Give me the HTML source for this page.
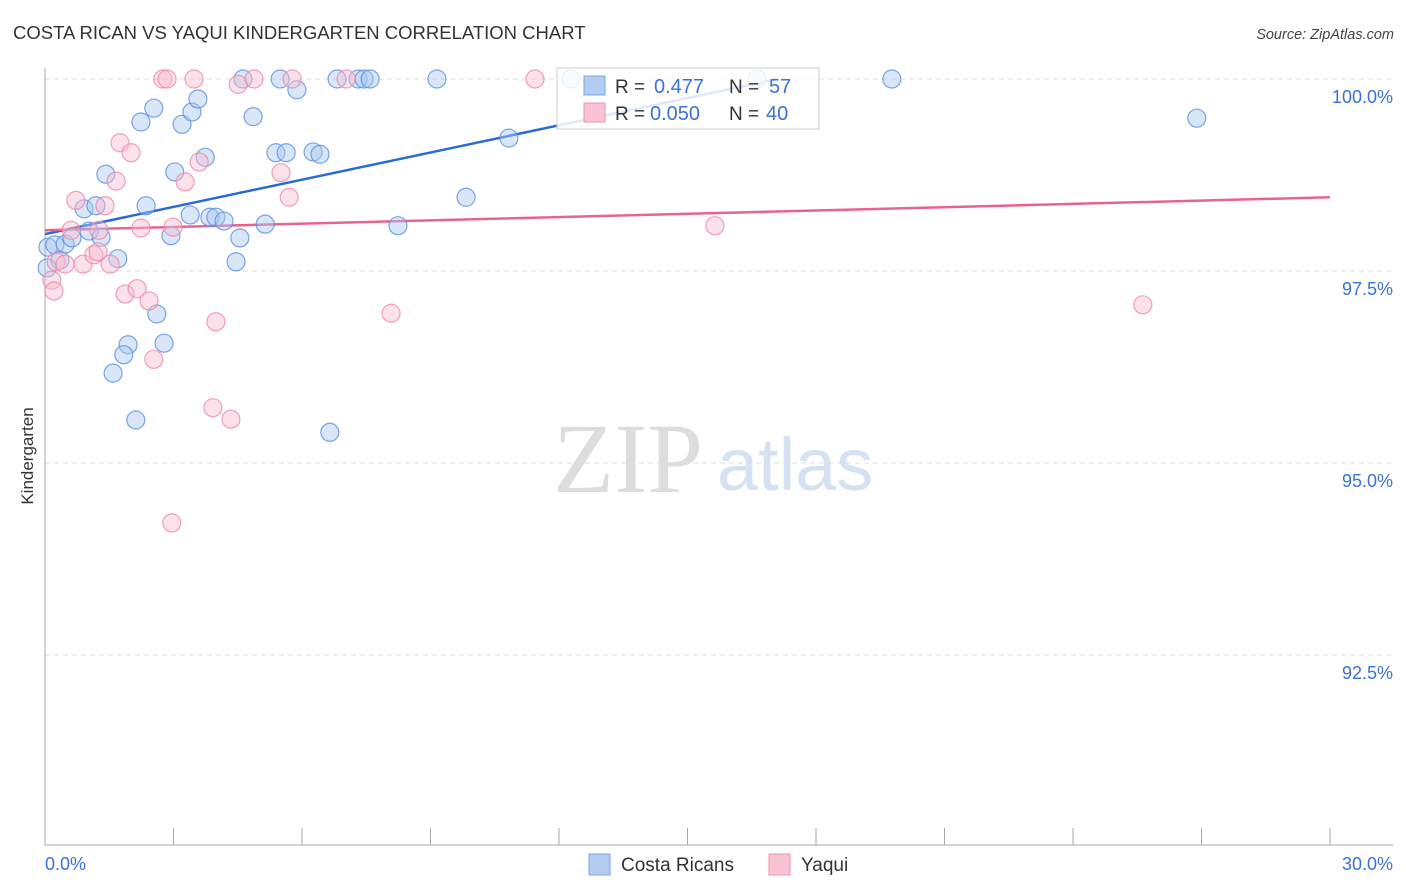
<!DOCTYPE html>
<html><head><meta charset="utf-8"><style>
body{margin:0;background:#fff;font-family:"Liberation Sans",sans-serif;}
svg{display:block}
</style></head><body>
<svg id="chart" width="1406" height="892" xmlns="http://www.w3.org/2000/svg">
<text x="13" y="39" font-size="18.5" fill="#333" font-family="Liberation Sans, sans-serif">COSTA RICAN VS YAQUI KINDERGARTEN CORRELATION CHART</text>
<text x="1394" y="39" font-size="14.5" fill="#444" font-style="italic" text-anchor="end">Source: ZipAtlas.com</text>
<g>
<text x="553" y="492" font-size="100" fill="#ddd" font-family="Liberation Serif, serif">ZIP</text>
<text x="717" y="490" font-size="74" fill="#d4e2f4">atlas</text>
</g>
<g id="grid"></g>
<g id="axes"></g>
<g id="trends"></g>
<g id="pts"></g>
<g>
<rect x="557" y="68" width="262" height="61" fill="#fff" fill-opacity="0.85" stroke="#ccc"/>
<rect x="584" y="76" width="21" height="19" fill="#b3cdf2" stroke="#7aa6e6"/>
<rect x="584" y="103" width="21" height="19" fill="#f9c3d3" stroke="#ee93ae"/>
<text x="615" y="93" font-size="19" fill="#333">R = </text><text x="654" y="93" font-size="20" fill="#3a72d6">0.477</text>
<text x="729" y="93" font-size="19" fill="#333">N = </text><text x="769" y="93" font-size="20" fill="#3a72d6">57</text>
<text x="615" y="120" font-size="19" fill="#333">R = </text><text x="650" y="120" font-size="20" fill="#3a72d6">0.050</text>
<text x="729" y="120" font-size="19" fill="#333">N = </text><text x="766" y="120" font-size="20" fill="#3a72d6">40</text>
</g>
<g>
<rect x="589" y="854" width="21" height="21" fill="#b3cdf2" stroke="#7aa6e6"/>
<text x="621" y="871" font-size="19" fill="#333">Costa Ricans</text>
<rect x="769" y="854" width="21" height="21" fill="#f9c3d3" stroke="#ee93ae"/>
<text x="801" y="871" font-size="19" fill="#333">Yaqui</text>
</g>
<text transform="translate(33,456) rotate(-90)" font-size="17" fill="#333" text-anchor="middle">Kindergarten</text>
</svg>
<script>
const yTicks=[100,97.5,95,92.5];
const yTickLabels=["100.0%","97.5%","95.0%","92.5%"];
const xTickLabels=["0.0%","30.0%"];
const blueX=[0.07,0.23,0.35,0.47,0.63,0.91,1.19,1.03,1.31,1.42,1.70,1.94,1.84,1.59,2.12,2.24,2.36,2.54,2.61,2.78,2.94,3.03,3.20,3.39,3.43,3.57,3.74,3.85,3.99,4.18,4.46,4.55,4.62,4.86,5.14,5.39,5.49,5.63,5.88,6.26,6.42,6.65,6.82,7.31,7.45,7.59,8.24,9.15,9.83,10.83,12.28,16.62,19.77,26.89,0.05];
const blueY=[97.81,97.84,97.64,97.85,97.93,98.31,98.35,98.02,97.94,98.76,97.66,96.54,96.41,96.17,95.56,99.44,98.35,99.62,96.94,96.56,97.96,98.79,99.41,98.23,99.57,99.74,98.98,98.20,98.20,98.15,97.62,97.93,100,99.51,98.11,99.04,100,99.04,99.86,99.05,99.02,95.40,100,100,100,100,98.09,100,98.46,99.23,100,100,100,99.49,97.54];
const pinkX=[2.75,2.85,3.48,4.51,4.88,5.77,7.03,11.44,1.75,2.01,1.66,0.72,1.40,1.26,0.61,0.26,0.47,0.89,1.52,1.14,1.24,0.16,0.21,1.87,2.15,2.43,2.54,2.99,2.24,3.27,3.60,3.99,3.92,4.34,2.96,5.51,5.70,8.08,15.64,25.63];
const pinkY=[100,100,100,99.93,100,100,100,100,99.17,99.04,98.67,98.42,98.35,98.03,98.03,97.62,97.59,97.59,97.59,97.71,97.75,97.38,97.24,97.20,97.27,97.11,96.35,98.07,98.06,98.66,98.92,96.84,95.72,95.57,94.22,98.78,98.46,96.95,98.09,97.06];
const blueTrendX=[0,17.1], blueTrendY=[97.98,100];
const pinkTrendX=[0,30], pinkTrendY=[98.03,98.46];
const NS="http://www.w3.org/2000/svg";
const sx=v=>45+v/30*1285, sy=v=>79+(100-v)/2.5*192;
function mk(tag,attrs,parent){const e=document.createElementNS(NS,tag);for(const k in attrs)e.setAttribute(k,attrs[k]);document.getElementById(parent).appendChild(e);return e;}
yTicks.forEach((t,i)=>{
 const l=mk('line',{x1:45,x2:1393,y1:sy(t),y2:sy(t),stroke:'#ddd','stroke-dasharray':'5,4'},'grid');
 
 
 const tx=mk('text',{x:1393,y:sy(t)+24,'font-size':18,fill:'#3a72d6','text-anchor':'end'},'grid');
 tx.textContent=yTickLabels[i];
 
 
});
let a=mk('line',{x1:45,x2:45,y1:68,y2:845,stroke:'#aaa'},'axes');


a=mk('line',{x1:45,x2:1393,y1:845,y2:845,stroke:'#aaa'},'axes');


for(let i=0;i<=10;i++){const t=mk('line',{x1:sx(i*3),x2:sx(i*3),y1:828,y2:845,stroke:'#aaa'},'axes');
 
 }
[[0,'start',45],[1,'end',1393]].forEach(([i,anc,x])=>{const t=mk('text',{x:x,y:870,'font-size':18,fill:'#3a72d6','text-anchor':anc},'axes');t.textContent=xTickLabels[i];
 
 });
function dots(X,Y,fill,stroke,name){X.forEach((x,i)=>{const c=mk('circle',{cx:sx(x),cy:sy(Y[i]),r:9,fill:fill,'fill-opacity':0.45,stroke:stroke,'stroke-opacity':0.8,'stroke-width':1.2},'pts');
 
 });}
dots(blueX,blueY,'#a9c8f0','#5a90dd','costa-rican-point');
dots(pinkX,pinkY,'#f8bcd0','#ec8aa9','yaqui-point');
let tl=mk('line',{x1:sx(blueTrendX[0]),y1:sy(blueTrendY[0]),x2:sx(blueTrendX[1]),y2:sy(blueTrendY[1]),stroke:'#2a6ad4','stroke-width':2.5},'trends');


tl=mk('line',{x1:sx(pinkTrendX[0]),y1:sy(pinkTrendY[0]),x2:sx(pinkTrendX[1]),y2:sy(pinkTrendY[1]),stroke:'#e8648f','stroke-width':2.5},'trends');


</script>
</body></html>
